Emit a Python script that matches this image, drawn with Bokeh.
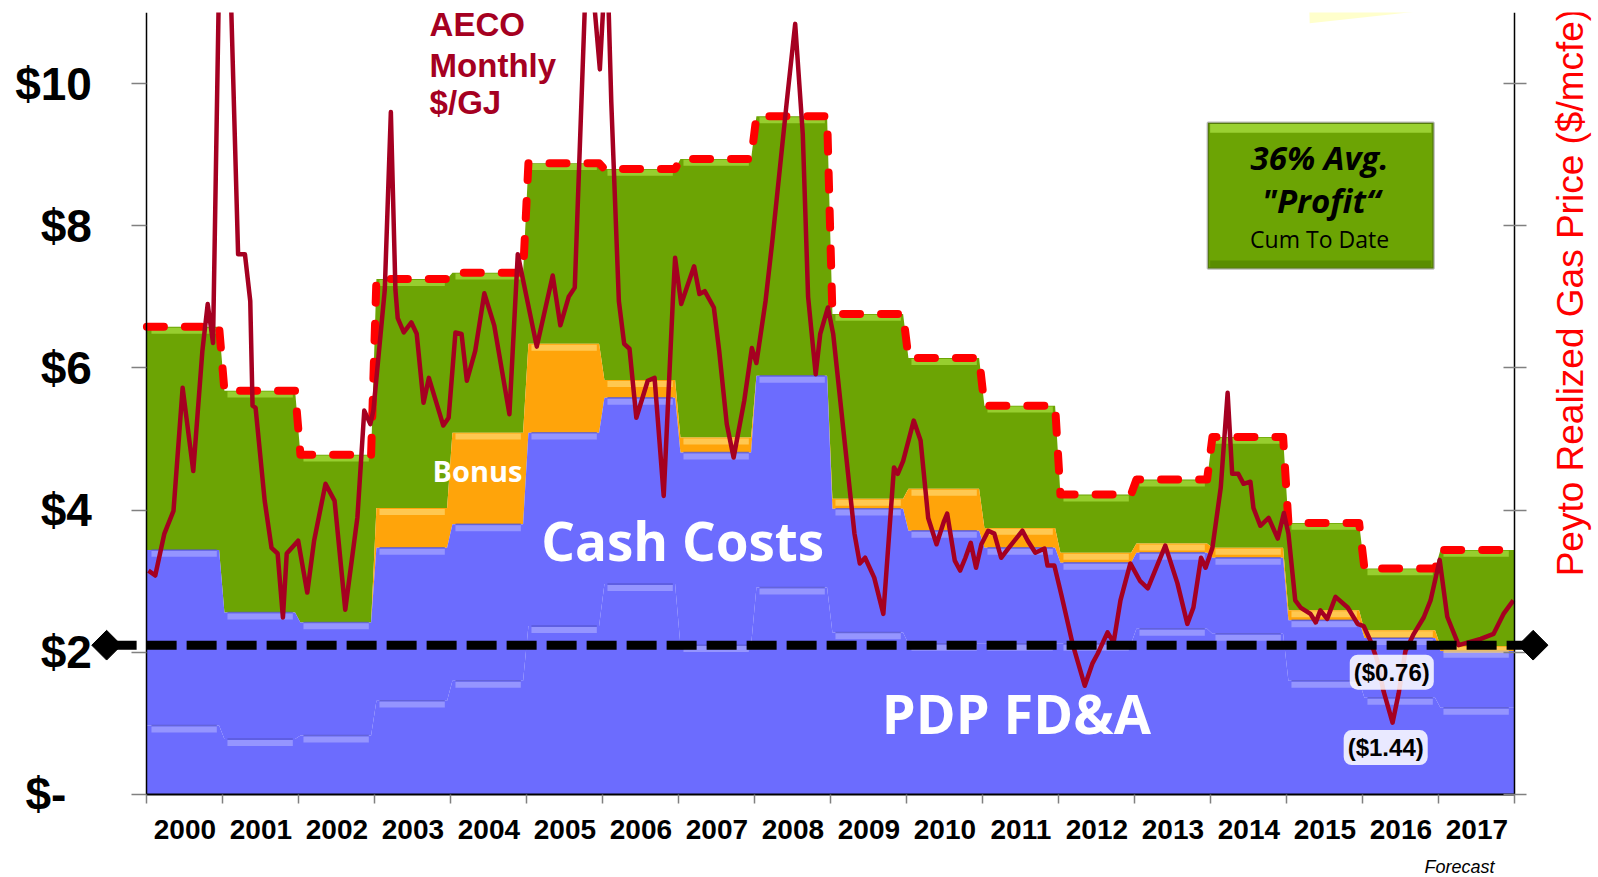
import math
from bokeh.plotting import figure
from bokeh.models import (Range1d, LinearAxis, FixedTicker, Label, BoxAnnotation, PolyAnnotation,
                          Arrow, CustomJSTickFormatter, ColumnDataSource)
from bokeh.embed import file_html
from bokeh.resources import INLINE

# ---------------- data ----------------
years = [str(y) for y in range(2000, 2018)]
pdp_fdna   = [0.97, 0.78, 0.83, 1.32, 1.60, 2.37, 2.96, 2.10, 2.91, 2.28, 2.12, 2.12, 2.12, 2.33, 2.26, 1.60, 1.36, 1.22]
cash_costs = [2.47, 1.78, 1.59, 2.15, 2.20, 2.72, 2.62, 2.71, 2.98, 1.74, 1.59, 1.35, 1.14, 1.07, 1.07, 0.85, 0.84, 0.80]
bonus      = [0.00, 0.00, 0.00, 0.56, 1.29, 1.25, 0.25, 0.21, 0.00, 0.14, 0.59, 0.28, 0.14, 0.13, 0.14, 0.14, 0.11, 0.07]
realized_price = [6.58, 5.68, 4.78, 7.25, 7.34, 8.88, 8.80, 8.94, 9.54, 6.76, 6.14, 5.47, 4.22, 4.43, 5.03, 3.82, 3.18, 3.44]

aeco_t = [0.02, 0.11, 0.23, 0.35, 0.47, 0.61, 0.73, 0.80, 0.87, 0.97, 1.08, 1.20, 1.29, 1.36, 1.39, 1.43,
          1.55, 1.64, 1.72, 1.79, 1.84, 1.99, 2.11, 2.20, 2.35, 2.47, 2.61, 2.77, 2.86, 2.94, 2.98, 3.13,
          3.21, 3.27, 3.30, 3.38, 3.48, 3.55, 3.64, 3.71, 3.90, 3.97, 4.06, 4.14, 4.21, 4.32, 4.44, 4.57,
          4.77, 4.88, 5.13, 5.34, 5.44, 5.55, 5.63, 5.80, 5.96, 6.05, 6.11, 6.21, 6.28, 6.35, 6.44, 6.59,
          6.68, 6.80, 6.92, 6.95, 7.03, 7.20, 7.27, 7.34, 7.46, 7.53, 7.63, 7.72, 7.86, 7.96, 8.02, 8.14,
          8.23, 8.42, 8.53, 8.63, 8.70, 8.80, 8.86, 8.96, 9.03, 9.17, 9.31, 9.38, 9.45, 9.57, 9.69, 9.83,
          9.88, 9.95, 10.09, 10.18, 10.28, 10.39, 10.49, 10.53, 10.63, 10.70, 10.77, 10.84, 10.91, 10.98,
          11.07, 11.15, 11.24, 11.34, 11.52, 11.59, 11.69, 11.81, 11.85, 11.94, 12.03, 12.18, 12.34, 12.44,
          12.51, 12.64, 12.72, 12.81, 12.94, 13.07, 13.17, 13.40, 13.56, 13.69, 13.77, 13.87, 13.93, 14.02,
          14.13, 14.22, 14.28, 14.36, 14.43, 14.52, 14.56, 14.65, 14.76, 14.88, 14.96, 15.02, 15.11, 15.18,
          15.31, 15.38, 15.44, 15.53, 15.64, 15.80, 15.93, 16.01, 16.10, 16.19, 16.27, 16.39, 16.47, 16.56,
          16.67, 16.80, 16.89, 17.01, 17.11, 17.26, 17.55, 17.72, 17.85, 17.98]
aeco_v = [3.15, 3.08, 3.67, 3.99, 5.72, 4.55, 6.24, 6.90, 6.35, 12.8, 12.2, 7.6, 7.6, 6.94, 5.47, 5.44,
          4.13, 3.47, 3.39, 2.49, 3.39, 3.57, 2.84, 3.57, 4.37, 4.13, 2.60, 3.90, 5.40, 5.21, 5.40, 7.10,
          9.60, 7.10, 6.70, 6.50, 6.64, 6.48, 5.51, 5.86, 5.19, 5.30, 6.50, 6.48, 5.82, 6.24, 7.05, 6.60,
          5.35, 7.60, 6.30, 7.30, 6.60, 7.00, 7.13, 12.2, 10.2, 12.0, 9.75, 6.94, 6.34, 6.27, 5.30, 5.82,
          5.86, 4.20, 6.94, 7.55, 6.90, 7.43, 7.04, 7.08, 6.85, 6.24, 5.21, 4.74, 5.54, 6.28, 6.07, 6.94,
          7.79, 9.75, 10.84, 9.29, 7.00, 5.91, 6.48, 6.85, 6.48, 5.07, 3.67, 3.25, 3.33, 3.05, 2.54, 4.60,
          4.51, 4.69, 5.26, 4.98, 3.89, 3.52, 3.85, 3.95, 3.29, 3.15, 3.33, 3.54, 3.19, 3.52,
          3.71, 3.67, 3.33, 3.47, 3.71, 3.57, 3.40, 3.46, 3.22, 3.22, 2.82, 2.12, 1.53, 1.84,
          1.98, 2.28, 2.14, 2.73, 3.25, 3.00, 2.90, 3.50, 2.97, 2.40, 2.63, 3.33, 3.19, 3.47,
          4.32, 5.65, 4.51, 4.51, 4.37, 4.40, 4.03, 3.78, 3.89, 3.60, 3.96, 3.67, 2.73, 2.63,
          2.54, 2.42, 2.59, 2.47, 2.78, 2.63, 2.40, 2.37, 2.16, 1.88, 1.46, 1.01, 1.42, 2.02,
          2.26, 2.49, 2.73, 3.30, 2.50, 2.10, 2.19, 2.26, 2.54, 2.73]

breakeven = 2.1
tick_values = [0, 2, 4, 6, 8, 10]
y_top = 11.0

# ---------------- derived stacks ----------------
n = len(years)
top_fdna = pdp_fdna
top_cash = [a + b for a, b in zip(pdp_fdna, cash_costs)]
top_bonus = [a + b for a, b in zip(top_cash, bonus)]


def step_xy(vals):
    xs, ys = [], []
    for i, v in enumerate(vals):
        x0 = 0 if i == 0 else i + 0.02
        x1 = n if i == n - 1 else i + 0.95
        xs += [x0, x1]
        ys += [v, v]
    return xs, ys


sx, s_fdna = step_xy(top_fdna)
_, s_cash = step_xy(top_cash)
_, s_bonus = step_xy(top_bonus)
_, s_price = step_xy(realized_price)

BLUE = "#6C6CFE"
BLUE_HI = "#A3A3FF"
BLUE_DK = "#5252C8"
ORANGE = "#FFA40A"
ORANGE_HI = "#FFD46A"
GREEN = "#6CA404"
GREEN_HI = "#A6DC3E"
AECO_RED = "#A50021"

# frame spans the canvas below a 12px top border; axes sit at fixed data locations
PX_X = 76.0
PX_Y = 71.09
TOP_BORDER = 12
x_start = -146.4 / PX_X
x_end = x_start + 1598 / PX_X
y_end = y_top
y_start = y_end - (877 - TOP_BORDER) / PX_Y

p = figure(width=1598, height=877, x_range=Range1d(x_start, x_end), y_range=Range1d(y_start, y_end),
           output_backend="svg", toolbar_location=None,
           min_border_left=0, min_border_right=0, min_border_top=TOP_BORDER, min_border_bottom=0)
p.outline_line_color = None
p.xgrid.visible = False
p.ygrid.visible = False
p.background_fill_color = "white"
p.border_fill_color = "white"

# pale yellow slide decoration at top right
p.add_layout(PolyAnnotation(xs=[15.27, 15.30, 18.07, 18.07], ys=[12.0, 10.85, 11.17, 12.0],
                            fill_color="#FFFFCC", fill_alpha=1.0, line_color=None, level="underlay"))

# stacked areas
p.varea(x=sx, y1=s_bonus, y2=s_price, fill_color=GREEN)
p.varea(x=sx, y1=s_cash, y2=s_bonus, fill_color=ORANGE)
p.varea(x=sx, y1=s_fdna, y2=s_cash, fill_color=BLUE)
p.varea(x=sx, y1=[0] * len(sx), y2=s_fdna, fill_color=BLUE)

# bevel highlights along plateau tops
seg_x0 = [i + 0.06 for i in range(n)]
seg_x1 = [i + 0.92 for i in range(n)]
off = 0.055


def bevel(levels, hi, dk=None, mask=None):
    idx = [i for i in range(n) if (mask is None or mask[i])]
    src = ColumnDataSource(dict(x0=[seg_x0[i] for i in idx], x1=[seg_x1[i] for i in idx],
                                y=[levels[i] - off for i in idx], yt=[levels[i] for i in idx]))
    if dk is not None:
        p.segment(x0="x0", y0="yt", x1="x1", y1="yt", source=src, line_color=dk, line_width=1.5, line_alpha=0.7)
    p.segment(x0="x0", y0="y", x1="x1", y1="y", source=src, line_color=hi, line_width=6, line_alpha=0.75)


bevel(top_fdna, BLUE_HI, BLUE_DK)
bevel(top_cash, BLUE_HI, BLUE_DK)
bevel(top_bonus, ORANGE_HI, None, [b > 0.02 for b in bonus])
bevel(realized_price, GREEN_HI)

# realized price dashed step
p.line(x=sx, y=s_price, line_color="#FF0000", line_width=8, line_dash="17 21", line_cap="round",
       line_join="round")

# AECO monthly
p.line(x=aeco_t, y=aeco_v, line_color=AECO_RED, line_width=4.5, line_join="round")

# break-even dashed line with diamonds
p.add_layout(Arrow(x_start=-0.53, y_start=breakeven, x_end=18.24, y_end=breakeven, start=None, end=None,
                   line_color="black", line_width=9, line_dash="30 10"))
p.scatter(x=[-0.53, 18.24], y=[breakeven, breakeven], marker="square", angle=math.pi / 4, size=21,
          fill_color="black", line_color="black", level="overlay")

# axes
p.yaxis.fixed_location = 0
p.yaxis.bounds = (0, y_top)
p.yaxis.ticker = FixedTicker(ticks=tick_values)
p.yaxis.formatter = CustomJSTickFormatter(code="return tick == 0 ? '$-\\u00a0\\u00a0' : '$' + tick;")
p.yaxis.major_label_text_font = "Liberation Sans"
p.yaxis.major_label_text_font_style = "bold"
p.yaxis.major_label_text_font_size = "46px"
p.yaxis.major_label_text_color = "black"
p.yaxis.major_tick_out = 15
p.yaxis.major_tick_in = 0
p.yaxis.major_tick_line_color = "#808080"
p.yaxis.major_tick_line_width = 1.5
p.yaxis.minor_tick_line_color = None
p.yaxis.axis_line_color = "black"
p.yaxis.axis_line_width = 1.5
p.yaxis.major_label_standoff = 40

p.xaxis.fixed_location = 0
p.xaxis.bounds = (0, n)
p.xaxis.ticker = FixedTicker(ticks=[i + 0.5 for i in range(n)], minor_ticks=list(range(n + 1)))
p.xaxis.formatter = CustomJSTickFormatter(args=dict(labels=years), code="return labels[Math.floor(tick)];")
p.xaxis.major_label_text_font = "Liberation Sans"
p.xaxis.major_label_text_font_style = "bold"
p.xaxis.major_label_text_font_size = "28px"
p.xaxis.major_label_text_color = "black"
p.xaxis.major_tick_line_color = None
p.xaxis.major_tick_out = 0
p.xaxis.major_tick_in = 0
p.xaxis.minor_tick_out = 9
p.xaxis.minor_tick_in = 0
p.xaxis.minor_tick_line_color = "#808080"
p.xaxis.minor_tick_line_width = 1.5
p.xaxis.axis_line_color = "black"
p.xaxis.axis_line_width = 2
p.xaxis.major_label_standoff = 17

right = LinearAxis(ticker=FixedTicker(ticks=tick_values),
                   formatter=CustomJSTickFormatter(code="return '';"))
right.fixed_location = n
right.bounds = (0, y_top)
right.major_tick_in = 11
right.major_tick_out = 12
right.major_tick_line_color = "#808080"
right.major_tick_line_width = 1.5
right.minor_tick_line_color = None
right.axis_line_color = "black"
right.axis_line_width = 1.5
p.add_layout(right, "right")

# right title
p.add_layout(Label(x=18.73, y=7.06, text="Peyto Realized Gas Price ($/mcfe)", angle=math.pi / 2,
                   text_align="center", text_baseline="middle", text_font="Liberation Sans",
                   text_font_size="37px", text_color="#FF0000"))

# AECO label
for txt, yy in (("AECO", 10.83), ("Monthly", 10.26), ("$/GJ", 9.74)):
    p.add_layout(Label(x=3.72, y=yy, text=txt, text_align="left", text_baseline="middle",
                       text_font="Liberation Sans", text_font_style="bold", text_font_size="33px",
                       text_color=AECO_RED))

# area labels
p.add_layout(Label(x=4.35, y=4.56, text="Bonus", text_align="center", text_baseline="middle",
                   text_font="Open Sans", text_font_style="bold", text_font_size="29px", text_color="white"))
p.add_layout(Label(x=7.05, y=3.57, text="Cash Costs", text_align="center", text_baseline="middle",
                   text_font="Open Sans", text_font_style="bold", text_font_size="53px", text_color="white"))
p.add_layout(Label(x=11.44, y=1.14, text="PDP FD&A", text_align="center", text_baseline="middle",
                   text_font="Open Sans", text_font_style="bold", text_font_size="54px", text_color="white"))

# profit box
p.add_layout(BoxAnnotation(left=13.96, right=16.93, bottom=7.40, top=9.45, fill_color=GREEN,
                           fill_alpha=1.0, line_color="#1E1E1E", line_width=2.5))
p.add_layout(BoxAnnotation(left=13.99, right=16.90, bottom=9.31, top=9.43, fill_color=GREEN_HI,
                           fill_alpha=0.8, line_color=None))
p.add_layout(BoxAnnotation(left=13.99, right=16.90, bottom=7.42, top=7.51, fill_color="#4E7E00",
                           fill_alpha=0.6, line_color=None))
p.add_layout(Label(x=15.43, y=8.96, text="36% Avg.", text_align="center", text_baseline="middle",
                   text_font="Open Sans", text_font_style="bold italic", text_font_size="33px",
                   text_color="black"))
p.add_layout(Label(x=15.45, y=8.36, text="\"Profit\u201c", text_align="center", text_baseline="middle",
                   text_font="Open Sans", text_font_style="bold italic", text_font_size="33px",
                   text_color="black"))
p.add_layout(Label(x=15.43, y=7.81, text="Cum To Date", text_align="center", text_baseline="middle",
                   text_font="Open Sans", text_font_size="23px", text_color="black"))

# loss labels
for txt, xx, yy in (("($0.76)", 16.38, 1.72), ("($1.44)", 16.30, 0.66)):
    p.add_layout(Label(x=xx, y=yy, text=txt, text_align="center", text_baseline="middle",
                       text_font="Liberation Sans", text_font_style="bold", text_font_size="24px",
                       text_color="black", background_fill_color="white", background_fill_alpha=0.85,
                       padding=4, border_radius=8))

p.add_layout(Label(x=17.27, y=-1.013, text="Forecast", text_align="center", text_baseline="middle",
                   text_font="Liberation Sans", text_font_style="italic", text_font_size="18px",
                   text_color="black"))

open("out.html", "w").write(file_html(p, INLINE))
